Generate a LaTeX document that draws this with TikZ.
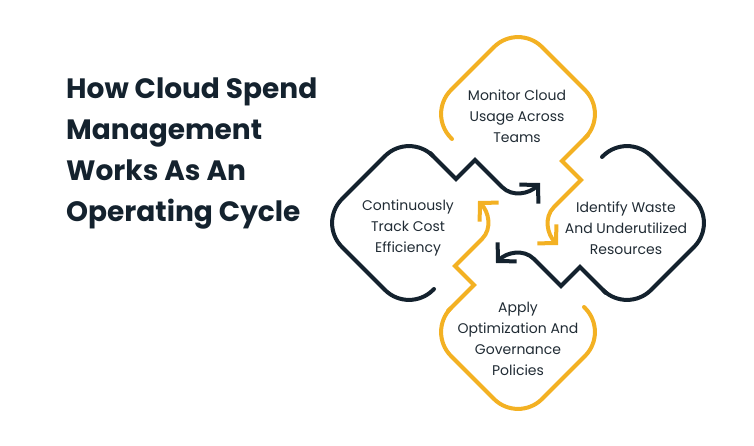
\documentclass[tikz,border=0pt]{standalone}
\usepackage{fontspec}
\setmainfont{Poppins}
\usetikzlibrary{arrows.meta}
\definecolor{cGold}{HTML}{F3B123}
\definecolor{cNavy}{HTML}{14222E}
\definecolor{cInk}{HTML}{202B34}

\begin{document}
\begin{tikzpicture}[x=1pt,y=1pt,
    loop/.style={line width=4pt,line cap=round},
    tip/.style={-{Straight Barb[length=13pt,width=27pt]}},
    stage/.style={align=center,text=cInk,inner sep=0pt,
      font=\fontsize{14}{21}\selectfont}]
  \useasboundingbox (0,0) rectangle (754,-446);

  % heading
  \node[anchor=north west,align=left,inner sep=0pt,text=cNavy,
    font=\fontsize{28}{41}\selectfont\bfseries] (title) at (66,-78)
    {How Cloud Spend\\Management\\Works As An\\Operating Cycle};

  % four loops, turned round the hub
  \coordinate (hub) at (518,-223);
  \foreach \ang/\col in {0/cGold,90/cNavy,180/cGold,270/cNavy}{
    \begin{scope}[shift={(hub)},rotate=\ang]
      \draw[loop,\col,rounded corners=34pt]
        (-66,84) -- (-91,109) -- (0,200) -- (91,109) -- (70,88);
      \draw[loop,\col,tip]
        (70,88) -- (44,62) -- (63,43) -- (36,16) to[out=225,in=135] (40,-22);
    \end{scope}
  }

  \node[stage] (monitor) at (517,-116) {Monitor Cloud\\Usage Across\\Teams};
  \node[stage] (identify) at (626,-228) {Identify Waste\\And Underutilized\\Resources};
  \node[stage] (track) at (408,-228) {Continuously\\Track Cost\\Efficiency};
  \node[stage] (apply) at (518,-339) {Apply\\Optimization And\\Governance\\Policies};
\end{tikzpicture}
\end{document}
